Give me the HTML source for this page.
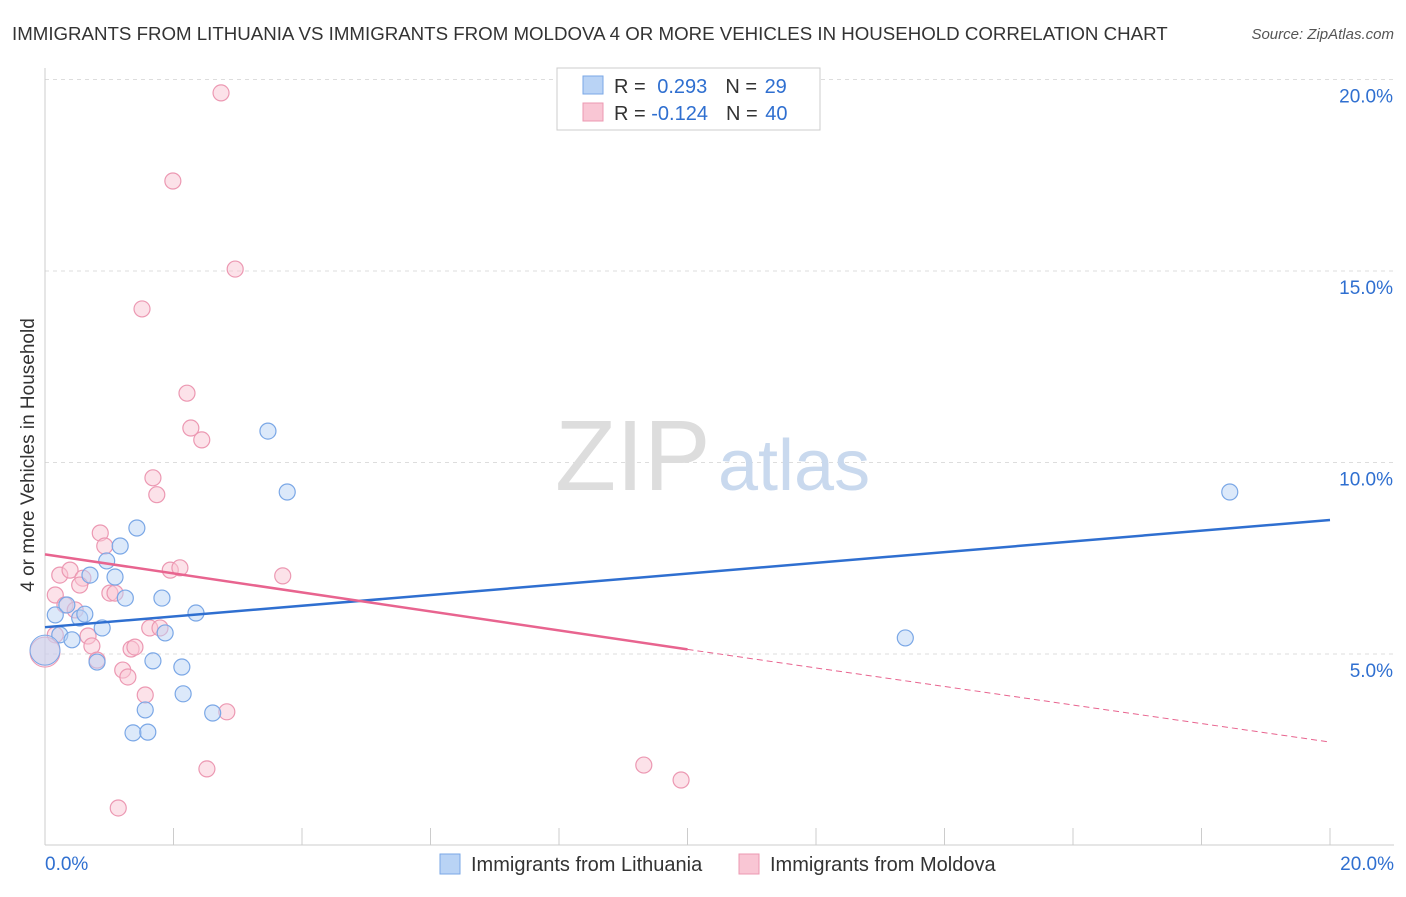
<!DOCTYPE html>
<html><head><meta charset="utf-8">
<style>
body{margin:0;background:#fff;font-family:"Liberation Sans",sans-serif;}
svg text{font-family:"Liberation Sans",sans-serif;}
</style></head>
<body>
<svg id="chart" width="1406" height="892" xmlns="http://www.w3.org/2000/svg">
<text x="12" y="40" font-size="18.7" fill="#333">IMMIGRANTS FROM LITHUANIA VS IMMIGRANTS FROM MOLDOVA 4 OR MORE VEHICLES IN HOUSEHOLD CORRELATION CHART</text>
<text x="1394" y="39" font-size="15" fill="#555" font-style="italic" text-anchor="end">Source: ZipAtlas.com</text>
<text x="0" y="0" transform="translate(34,455) rotate(-90)" font-size="19" fill="#333" text-anchor="middle">4 or more Vehicles in Household</text>
<g id="grid"></g>
<text x="555" y="490" font-size="100" fill="#ddd" font-family="Liberation Serif">ZIP</text>
<text x="718" y="490" font-size="72" fill="#c9d9ee">atlas</text>
<g id="marks"></g>
<g>
<rect x="557" y="68" width="263" height="62" fill="#fff" stroke="#ccc"/>
<rect x="583" y="76" width="20" height="18" fill="#b9d3f5" stroke="#7aa7e6"/>
<rect x="583" y="103" width="20" height="18" fill="#f9c6d4" stroke="#ec98b2"/>
<text x="614" y="93" font-size="20" fill="#333">R = <tspan fill="#2f6fd0" dx="6">0.293</tspan><tspan dx="18" fill="#333">N = </tspan><tspan fill="#2f6fd0" dx="2">29</tspan></text>
<text x="614" y="120" font-size="20" fill="#333">R = <tspan fill="#2f6fd0">-0.124</tspan><tspan dx="18" fill="#333">N = </tspan><tspan fill="#2f6fd0" dx="2">40</tspan></text>
</g>
<g>
<rect x="440" y="854" width="20" height="20" fill="#b9d3f5" stroke="#7aa7e6"/>
<text x="471" y="871" font-size="20" fill="#333">Immigrants from Lithuania</text>
<rect x="739" y="854" width="20" height="20" fill="#f9c6d4" stroke="#ec98b2"/>
<text x="770" y="871" font-size="20" fill="#333">Immigrants from Moldova</text>
</g>
</svg>
<script>
const blueX=[0.16,0.23,0.42,0.54,0.62,0.70,0.81,0.89,0.96,1.09,1.17,1.25,1.43,1.37,1.56,1.60,1.68,1.82,1.87,2.13,2.15,2.35,2.61,3.47,3.77,13.39,18.44,0.34];
const blueY=[6.02,5.50,5.37,5.94,6.04,7.06,4.79,5.68,7.43,7.01,7.82,6.46,8.29,2.94,3.54,2.96,4.82,6.46,5.55,4.66,3.96,6.07,3.46,10.82,9.23,5.42,9.23,6.28];
const pinkX=[2.74,1.99,2.96,1.51,2.21,2.27,2.44,1.68,1.74,0.86,0.93,0.23,0.39,0.59,0.54,0.16,0.31,0.47,0.67,0.73,0.81,1.01,1.09,1.21,1.29,1.34,1.40,1.56,1.63,1.79,1.95,2.10,3.70,2.83,2.52,1.14,9.32,9.90,0.16];
const pinkY=[19.65,17.35,15.05,14.01,11.81,10.90,10.59,9.60,9.16,8.16,7.82,7.06,7.19,6.98,6.80,6.54,6.28,6.15,5.47,5.21,4.84,6.59,6.59,4.58,4.40,5.13,5.18,3.93,5.68,5.68,7.19,7.25,7.04,3.49,2.00,0.98,2.10,1.71,5.50];
const blueBig=[0,5.1], pinkBig=[0,5.05];
const blueTrend=[[0,5.7],[20,8.5]];
const pinkTrend=[[0,7.6],[10,5.12],[20,2.7]];
const yTicks=[5,10,15,20];
const yTickLabels=["5.0%","10.0%","15.0%","20.0%"];
const xTickVals=[0,2,4,6,8,10,12,14,16,18,20];
const NS="http://www.w3.org/2000/svg";
const sx=v=>45+v*64.25, sy=v=>845.5-v*38.3;
function mk(tag,attrs,parent){const e=document.createElementNS(NS,tag);for(const k in attrs)e.setAttribute(k,attrs[k]);parent.appendChild(e);return e;}
const grid=document.getElementById('grid'), marks=document.getElementById('marks');
yTicks.forEach((t,i)=>{
 const l=mk('line',{x1:45,x2:1394,y1:sy(t),y2:sy(t),stroke:'#ddd','stroke-dasharray':'4,4'},grid);
 
 
 const tx=mk('text',{x:1393,y:sy(t)+23,'font-size':19,fill:'#2f6fd0','text-anchor':'end'},grid);
 tx.textContent=yTickLabels[i];
 
 
});
const ax=mk('line',{x1:45,x2:1394,y1:845,y2:845,stroke:'#ccc'},grid);


const ay=mk('line',{x1:45,x2:45,y1:68,y2:845,stroke:'#ccc'},grid);


xTickVals.forEach(t=>{const l=mk('line',{x1:sx(t),x2:sx(t),y1:828,y2:845,stroke:'#ccc'},grid);
 
 });
const xl0=mk('text',{x:45,y:870,'font-size':19,fill:'#2f6fd0'},grid);xl0.textContent='0.0%';


const xl1=mk('text',{x:1394,y:870,'font-size':19,fill:'#2f6fd0','text-anchor':'end'},grid);xl1.textContent='20.0%';


function dots(X,Y,fill,stroke,name){X.forEach((x,i)=>{const c=mk('circle',{cx:sx(x),cy:sy(Y[i]),r:8,fill:fill,'fill-opacity':0.5,stroke:stroke,'stroke-width':1.2},marks);
 
 });}
dots(pinkX,pinkY,'#f9c6d4','#ec98b2','point-moldova');
dots(blueX,blueY,'#b9d3f5','#7aa7e6','point-lithuania');
const b1=mk('circle',{cx:sx(pinkBig[0]),cy:sy(pinkBig[1]),r:15,fill:'#f9c6d4','fill-opacity':0.5,stroke:'#ec98b2'},marks);


const b2=mk('circle',{cx:sx(blueBig[0]),cy:sy(blueBig[1]),r:15,fill:'#b9d3f5','fill-opacity':0.5,stroke:'#7aa7e6'},marks);


const bl=mk('line',{x1:sx(blueTrend[0][0]),y1:sy(blueTrend[0][1]),x2:sx(blueTrend[1][0]),y2:sy(blueTrend[1][1]),stroke:'#2f6fd0','stroke-width':2.5},marks);


const pl=mk('line',{x1:sx(pinkTrend[0][0]),y1:sy(pinkTrend[0][1]),x2:sx(pinkTrend[1][0]),y2:sy(pinkTrend[1][1]),stroke:'#e8648f','stroke-width':2.5},marks);


const pd=mk('line',{x1:sx(pinkTrend[1][0]),y1:sy(pinkTrend[1][1]),x2:sx(pinkTrend[2][0]),y2:sy(pinkTrend[2][1]),stroke:'#e8648f','stroke-width':1,'stroke-dasharray':'6,4'},marks);


</script>
</body></html>
